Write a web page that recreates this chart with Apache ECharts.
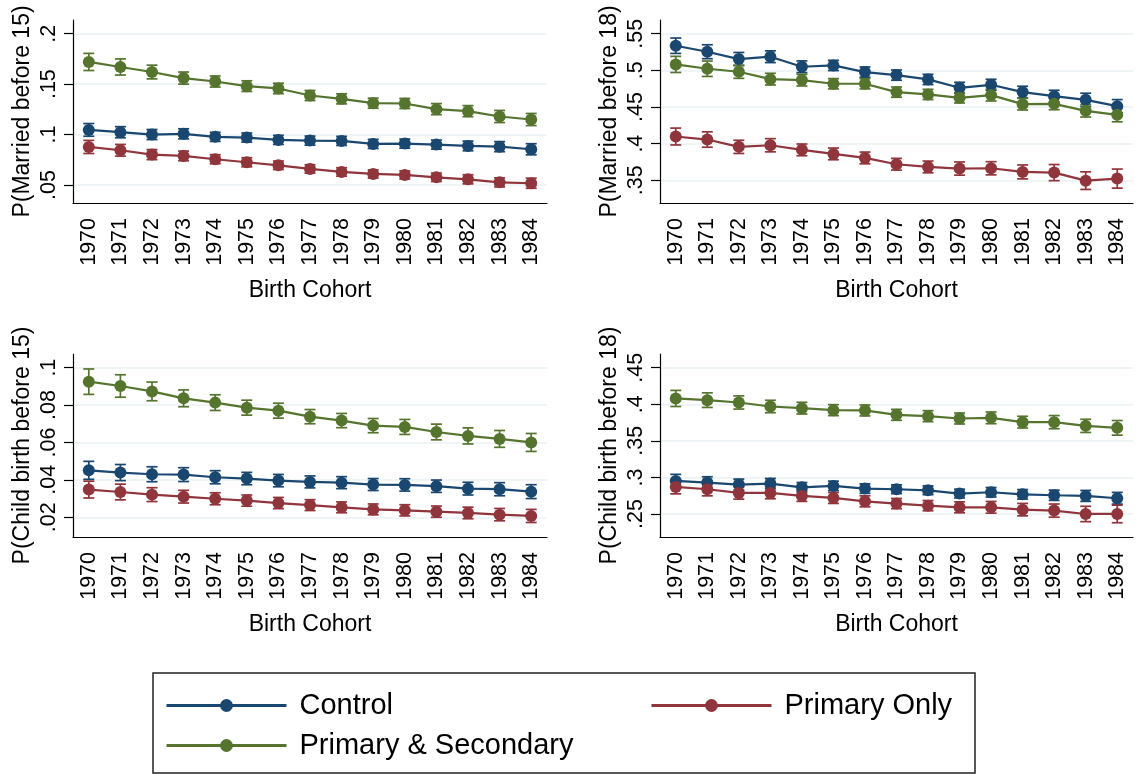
<!DOCTYPE html>
<html><head><meta charset="utf-8">
<script src="https://cdn.jsdelivr.net/npm/echarts@6/dist/echarts.min.js"></script>
<style>html,body{margin:0;padding:0;background:#fff}#c{width:1137px;height:774px}</style>
</head><body><div id="c"></div>
<script>
const years = ['1970','1971','1972','1973','1974','1975','1976','1977','1978','1979','1980','1981','1982','1983','1984'];
const seriesNames = ['Control','Primary Only','Primary & Secondary'];
const colors = ['#1a476f','#90353b','#55752f'];

// Panel 1: P(Married before 15)
const m15Control = [.1046,.1023,.1000,.1007,.0977,.0970,.0947,.0940,.0937,.0907,.0910,.0900,.0887,.0880,.0854];
const m15Primary = [.0877,.0844,.0801,.0788,.0755,.0725,.0695,.0659,.0629,.0609,.0599,.0576,.0556,.0526,.0517];
const m15Both    = [.1720,.1670,.1620,.1560,.1526,.1480,.1457,.1387,.1354,.1311,.1308,.1252,.1232,.1179,.1149];
const m15ControlCI = [.0063,.0055,.0050,.0050,.0045,.0045,.0045,.0045,.0045,.0045,.0045,.0045,.0048,.0050,.0055];
const m15PrimaryCI = [.0065,.0058,.0050,.0048,.0045,.0045,.0042,.0042,.0042,.0040,.0040,.0042,.0045,.0045,.0050];
const m15BothCI    = [.0085,.0080,.0068,.0060,.0055,.0053,.0052,.0050,.0050,.0050,.0050,.0055,.0055,.0060,.0060];

// Panel 2: P(Married before 18)
const m18Control = [.5336,.5254,.5154,.5186,.5049,.5067,.4976,.4935,.4876,.4762,.4803,.4703,.4648,.4598,.4511];
const m18Primary = [.4097,.4056,.3956,.3978,.3915,.3860,.3805,.3719,.3682,.3660,.3664,.3614,.3605,.3495,.3523];
const m18Both    = [.5081,.5022,.4981,.4880,.4867,.4817,.4817,.4703,.4671,.4625,.4662,.4539,.4543,.4448,.4393];
const m18ControlCI = [.0105,.0095,.0090,.0080,.0080,.0070,.0070,.0070,.0070,.0075,.0075,.0080,.0080,.0090,.0090];
const m18PrimaryCI = [.0115,.0105,.0090,.0090,.0080,.0080,.0080,.0080,.0080,.0090,.0090,.0095,.0110,.0120,.0130];
const m18BothCI    = [.0110,.0105,.0090,.0080,.0080,.0070,.0070,.0070,.0070,.0070,.0080,.0080,.0080,.0085,.0095];

// Panel 3: P(Child birth before 15)
const c15Control = [.0451,.0439,.0430,.0428,.0414,.0407,.0396,.0389,.0385,.0375,.0373,.0366,.0353,.0350,.0337];
const c15Primary = [.0348,.0335,.0321,.0310,.0299,.0289,.0276,.0265,.0253,.0242,.0237,.0230,.0223,.0214,.0207];
const c15Both    = [.0925,.0902,.0873,.0836,.0813,.0786,.0770,.0738,.0717,.0690,.0683,.0656,.0635,.0619,.0600];
const c15ControlCI = [.0048,.0043,.0040,.0037,.0035,.0033,.0033,.0032,.0032,.0032,.0033,.0033,.0034,.0035,.0037];
const c15PrimaryCI = [.0045,.0042,.0037,.0034,.0032,.0030,.0030,.0029,.0029,.0029,.0030,.0030,.0031,.0033,.0035];
const c15BothCI    = [.0068,.0060,.0050,.0045,.0042,.0040,.0040,.0038,.0038,.0038,.0040,.0042,.0043,.0045,.0048];

// Panel 4: P(Child birth before 18)
const c18Control = [.2952,.2929,.2902,.2916,.2865,.2884,.2847,.2838,.2824,.2779,.2797,.2769,.2756,.2747,.2715];
const c18Primary = [.2870,.2838,.2788,.2788,.2747,.2719,.2673,.2642,.2614,.2591,.2591,.2559,.2546,.2500,.2500];
const c18Both    = [.4080,.4057,.4025,.3970,.3947,.3920,.3916,.3856,.3838,.3806,.3815,.3756,.3756,.3705,.3678];
const c18ControlCI = [.0090,.0080,.0075,.0070,.0065,.0065,.0065,.0060,.0060,.0060,.0065,.0065,.0070,.0075,.0080];
const c18PrimaryCI = [.0095,.0090,.0085,.0080,.0075,.0075,.0075,.0070,.0070,.0075,.0080,.0085,.0090,.0105,.0120];
const c18BothCI    = [.0110,.0100,.0090,.0085,.0080,.0075,.0075,.0075,.0075,.0075,.0080,.0080,.0090,.0090,.0100];

const yTitles = ['P(Married before 15)','P(Married before 18)','P(Child birth before 15)','P(Child birth before 18)'];
const yTicks = [[.05,.1,.15,.2],[.35,.4,.45,.5,.55],[.02,.04,.06,.08,.1],[.25,.3,.35,.4,.45]];
const yRanges = [[.0321,.2136],[.319,.5687],[.00944,.1073],[.2185,.4688]];
const xTitle = 'Birth Cohort';

const panelMeans = [[m15Control,m15Primary,m15Both],[m18Control,m18Primary,m18Both],[c15Control,c15Primary,c15Both],[c18Control,c18Primary,c18Both]];
const panelCIs = [[m15ControlCI,m15PrimaryCI,m15BothCI],[m18ControlCI,m18PrimaryCI,m18BothCI],[c15ControlCI,c15PrimaryCI,c15BothCI],[c18ControlCI,c18PrimaryCI,c18BothCI]];

const FONT = "'Liberation Sans', Arial, Helvetica, sans-serif";
const gridPos = [
  {left:73, top:20, width:474, height:183},
  {left:660, top:20, width:473, height:183},
  {left:73, top:354, width:474, height:183},
  {left:660, top:354, width:473, height:183}
];
const fmt = v => String(+(+v).toFixed(3)).replace(/^0\./,'.');

function renderErr(params, api){
  const x = api.value(0), lo = api.value(1), hi = api.value(2);
  const pLo = api.coord([x, lo]), pHi = api.coord([x, hi]);
  const w = 5.5;
  const style = {stroke: api.visual('color'), lineWidth: 1.7};
  return {type:'group', children:[
    {type:'line', shape:{x1:pLo[0],y1:pLo[1],x2:pHi[0],y2:pHi[1]}, style},
    {type:'line', shape:{x1:pLo[0]-w,y1:pLo[1],x2:pLo[0]+w,y2:pLo[1]}, style},
    {type:'line', shape:{x1:pHi[0]-w,y1:pHi[1],x2:pHi[0]+w,y2:pHi[1]}, style}
  ]};
}

const grids = [], xAxes = [], yAxes = [], series = [];
for (let p = 0; p < 4; p++) {
  grids.push(Object.assign({containLabel:false}, gridPos[p]));
  xAxes.push({
    type:'category', gridIndex:p, data:years, boundaryGap:true,
    name:xTitle, nameLocation:'middle', nameGap:76,
    nameTextStyle:{fontFamily:FONT, fontSize:23, color:'#000'},
    axisLine:{lineStyle:{color:'#000', width:1.2}},
    axisTick:{alignWithLabel:true, length:9, lineStyle:{color:'#000', width:1.2}},
    axisLabel:{rotate:90, interval:0, margin:15, fontFamily:FONT, fontSize:21.5, color:'#000'},
    splitLine:{show:false}
  });
  yAxes.push({
    type:'value', gridIndex:p, min:yRanges[p][0], max:yRanges[p][1],
    name:yTitles[p], nameLocation:'middle', nameGap:39, nameRotate:90,
    nameTextStyle:{fontFamily:FONT, fontSize:23, color:'#000'},
    axisLine:{show:true, lineStyle:{color:'#000', width:1.2}},
    axisTick:{show:true, length:9, customValues:yTicks[p], lineStyle:{color:'#000', width:1.2}},
    axisLabel:{rotate:90, margin:13, customValues:yTicks[p], formatter:fmt, fontFamily:FONT, fontSize:21.5, color:'#000'},
    splitLine:{show:true, lineStyle:{color:'#eaf2f3', width:1.5}}
  });
  for (let s = 0; s < 3; s++) {
    const means = panelMeans[p][s], ci = panelCIs[p][s];
    series.push({
      type:'custom', name:seriesNames[s]+' CI', xAxisIndex:p, yAxisIndex:p,
      renderItem:renderErr, itemStyle:{color:colors[s]}, z:2,
      encode:{x:0, y:[1,2]},
      data: means.map((m,i) => [i, m - ci[i], m + ci[i]]),
      silent:true
    });
  }
  for (let s = 0; s < 3; s++) {
    series.push({
      type:'line', name:seriesNames[s], xAxisIndex:p, yAxisIndex:p,
      data: panelMeans[p][s], symbol:'circle', symbolSize:12, showSymbol:true,
      lineStyle:{color:colors[s], width:2.2}, itemStyle:{color:colors[s]},
      z:3, animation:false
    });
  }
}

const legendCommon = {
  orient:'vertical', itemWidth:120, itemHeight:16, itemGap:11,
  lineStyle:{width:3},
  textStyle:{fontFamily:FONT, fontSize:29, color:'#000', padding:[0,0,0,8]},
  selectedMode:false
};

const chart = echarts.init(document.getElementById('c'), null, {renderer:'canvas'});
chart.setOption({
  backgroundColor:'#fff',
  animation:false,
  grid:grids, xAxis:xAxes, yAxis:yAxes, series:series,
  legend:[
    Object.assign({}, legendCommon, {data:['Control','Primary & Secondary'], left:160, top:686}),
    Object.assign({}, legendCommon, {data:['Primary Only'], left:645, top:686})
  ],
  graphic:[{type:'rect', shape:{x:153, y:673, width:822, height:100}, style:{fill:'none', stroke:'#222', lineWidth:1.5}}]
});
</script></body></html>
